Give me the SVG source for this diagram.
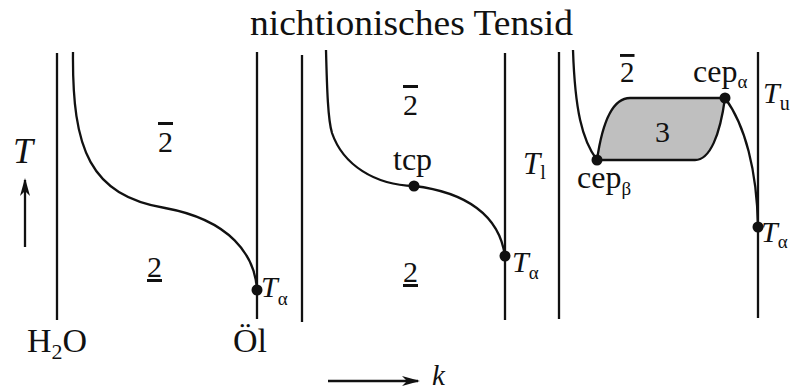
<svg xmlns="http://www.w3.org/2000/svg" width="795" height="390" viewBox="0 0 795 390">
<style>
.ln{stroke:#111;stroke-width:2.3;fill:none;stroke-linecap:butt}
.cv{stroke:#111;stroke-width:2.3;fill:none}
.dot{fill:#111}
.t{font-family:"Liberation Serif","DejaVu Serif",serif;fill:#111}
.it{font-style:italic}
.ov{text-decoration:overline}
.un{text-decoration:underline}
</style>
<defs>
<marker id="ah" viewBox="0 0 18 10" refX="16" refY="5" markerWidth="18" markerHeight="10" markerUnits="userSpaceOnUse" orient="auto">
<path d="M0,0 L18,5 L0,10 L5,5 Z" fill="#111"/>
</marker>
</defs>
<rect width="795" height="390" fill="#fff"/>
<g id="title"><text class="t" x="250" y="35" font-size="36" textLength="323" lengthAdjust="spacingAndGlyphs">nichtionisches Tensid</text></g>
<g id="boundaries">
<line class="ln" x1="57" y1="53" x2="57" y2="320"/>
<line class="ln" x1="257" y1="52" x2="257" y2="319"/>
<line class="ln" x1="302" y1="55" x2="302" y2="322"/>
<line class="ln" x1="505" y1="53" x2="505" y2="320"/>
<line class="ln" x1="559" y1="52" x2="559" y2="319"/>
<line class="ln" x1="758" y1="52" x2="758" y2="318"/>
</g>
<g id="connectors">
<path class="cv" d="M73,52 C72,150 90,195 165,208 C230,220 255,255 257,290"/>
<path class="cv" d="M326,50 C327,90 328,120 332,133 C343,165 375,185 414,186 C465,192 500,215 505,257"/>
<path class="cv" d="M573,50 C575,110 582,140 597,160"/>
<path class="cv" d="M725,98 C745,125 757,170 758,227"/>
<line class="ln" x1="25" y1="247" x2="25" y2="180" marker-end="url(#ah)"/>
<line class="ln" x1="328" y1="381" x2="418" y2="381" marker-end="url(#ah)"/>
</g>
<g id="three-phase">
<path d="M597,160 C602,125 612,98 630,98 L725,98 C720,135 710,160 695,160 Z" fill="#bfbfbf" stroke="#111" stroke-width="2.3" stroke-linejoin="round"/>
<text class="t" x="655" y="142" font-size="30">3</text>
</g>
<g id="nodes">
<circle id="Ta1" class="dot" cx="257" cy="290" r="5.5"/>
<circle id="tcp" class="dot" cx="414" cy="186" r="5.5"/>
<circle id="Ta2" class="dot" cx="505" cy="256" r="5.5"/>
<circle id="cepb" class="dot" cx="597" cy="160" r="5.5"/>
<circle id="cepa" class="dot" cx="725" cy="98" r="5.5"/>
<circle id="Ta3" class="dot" cx="758" cy="227" r="5.5"/>
</g>
<g id="labels">
<text class="t it" x="13" y="163" font-size="36">T</text>
<text class="t" x="27" y="352" font-size="34">H<tspan font-size="22" dy="7">2</tspan><tspan dy="-7">O</tspan></text>
<text class="t" x="233" y="352" font-size="34">Öl</text>
<text class="t ov" x="158" y="152" font-size="30">2</text>
<text class="t un" x="147" y="277" font-size="30">2</text>
<text class="t" x="261" y="297" font-size="30"><tspan class="it">T</tspan><tspan font-size="19" dy="8">α</tspan></text>
<text class="t ov" x="403" y="115" font-size="30">2</text>
<text class="t un" x="403" y="282" font-size="30">2</text>
<text class="t" x="393" y="170" font-size="32">tcp</text>
<text class="t" x="512" y="272" font-size="30"><tspan class="it">T</tspan><tspan font-size="19" dy="7">α</tspan></text>
<text class="t" x="523" y="174" font-size="31"><tspan class="it">T</tspan><tspan font-size="20" dy="5">l</tspan></text>
<text class="t ov" x="620" y="82" font-size="29">2</text>
<text class="t" x="693" y="82" font-size="32">cep<tspan font-size="19" dy="6">α</tspan></text>
<text class="t" x="763" y="103" font-size="30"><tspan class="it">T</tspan><tspan font-size="20" dy="7">u</tspan></text>
<text class="t" x="577" y="188" font-size="32">cep<tspan font-size="19" dy="7">β</tspan></text>
<text class="t" x="761" y="242" font-size="30"><tspan class="it">T</tspan><tspan font-size="19" dy="6">α</tspan></text>
<text class="t it" x="432" y="385" font-size="29">k</text>
</g>
</svg>
